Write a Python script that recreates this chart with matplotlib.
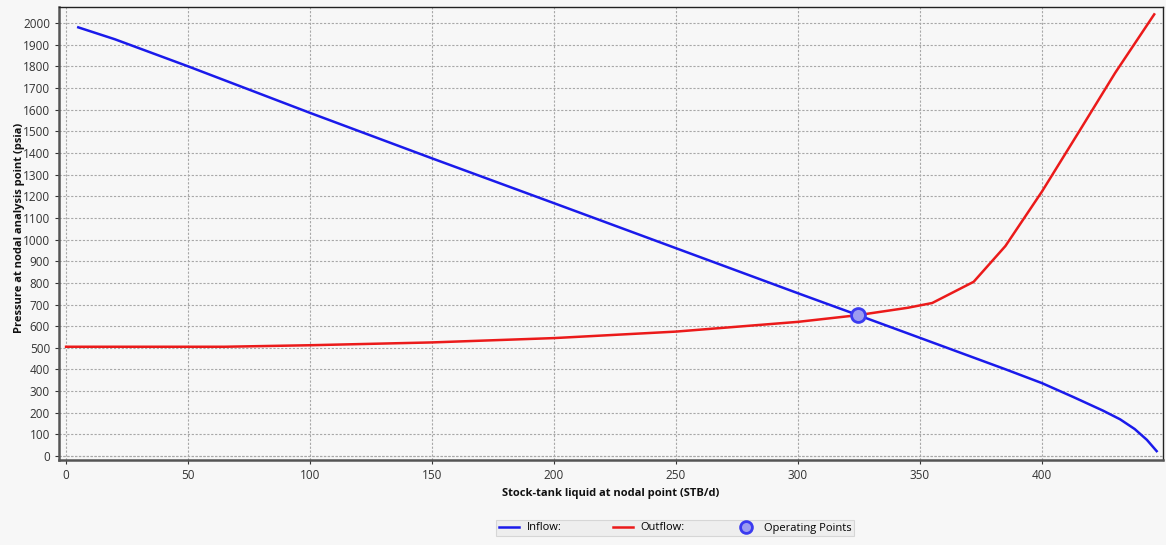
import matplotlib
matplotlib.use("Agg")
import matplotlib.pyplot as plt
from matplotlib.ticker import MultipleLocator

plt.rcParams['font.family'] = ['Open Sans', 'DejaVu Sans']

# Inflow performance (IPR)
inflow_q = [5, 20, 50, 100, 150, 200, 250, 300, 324.6, 350, 385, 400, 413, 425, 432, 438, 443, 447]
inflow_p = [1980, 1925, 1800, 1585, 1375, 1168, 960, 752, 651, 546, 401, 337, 272, 210, 170, 125, 75, 23]

# Outflow performance (tubing)
outflow_q = [0, 30, 65, 100, 150, 200, 250, 300, 324.6, 345, 355, 372, 385, 400, 415, 430, 446]
outflow_p = [505, 505, 505, 512, 525, 545, 575, 620, 651, 685, 707, 805, 970, 1222, 1495, 1770, 2040]

# Operating point (intersection)
op_q = [324.6]
op_p = [651]

bg = '#f7f7f7'
fig = plt.figure(figsize=(11.66, 5.45), dpi=100, facecolor=bg)
ax = fig.add_axes([59/1166, 1 - 460/545, (1163-59)/1166, (460-7)/545])
ax.set_facecolor(bg)

ax.plot(inflow_q, inflow_p, color='#1a1aeb', lw=1.8, label='Inflow:', zorder=3)
ax.plot(outflow_q, outflow_p, color='#eb1a1a', lw=1.8, label='Outflow:', zorder=3)
ax.plot(op_q, op_p, linestyle='none', marker='o', markersize=10,
        markerfacecolor='#9c9cf0', markeredgecolor='#3b3bf0', markeredgewidth=2,
        label='Operating Points', zorder=4)

ax.set_xlim(-2.9, 449.6)
ax.set_ylim(-18, 2074)
ax.xaxis.set_major_locator(MultipleLocator(50))
ax.yaxis.set_major_locator(MultipleLocator(100))
ax.grid(True, color='#a8a8a8', linestyle=(0, (2, 1.5)), linewidth=0.8)
ax.axhline(0, color='#a8a8a8', linestyle=(0, (2, 1.5)), linewidth=0.8, zorder=1)

ax.tick_params(axis='both', labelsize=8.5, colors='#333333', length=3, width=0.8)
for side in ['top', 'right']:
    ax.spines[side].set_color('#222222')
    ax.spines[side].set_linewidth(1.0)
for side in ['left', 'bottom']:
    ax.spines[side].set_color('#555555')
    ax.spines[side].set_linewidth(1.8)

ax.set_xlabel('Stock-tank liquid at nodal point (STB/d)', fontsize=8, fontweight='bold',
              color='#111111', labelpad=4)
ax.set_ylabel('Pressure at nodal analysis point (psia)', fontsize=8, fontweight='bold',
              color='#111111')
ax.yaxis.set_label_coords(-0.031, 0.512)

leg = fig.legend(loc='center', bbox_to_anchor=(675/1166, 1 - 528/545), ncol=3,
                 fontsize=8, frameon=True, fancybox=False, edgecolor='#d0d0d0',
                 facecolor='#ececec', columnspacing=4.6, handlelength=1.8,
                 borderpad=0.25, handletextpad=0.7, markerscale=0.85)
leg.get_frame().set_linewidth(0.8)

fig.savefig('out.png', dpi=100, facecolor=bg)
